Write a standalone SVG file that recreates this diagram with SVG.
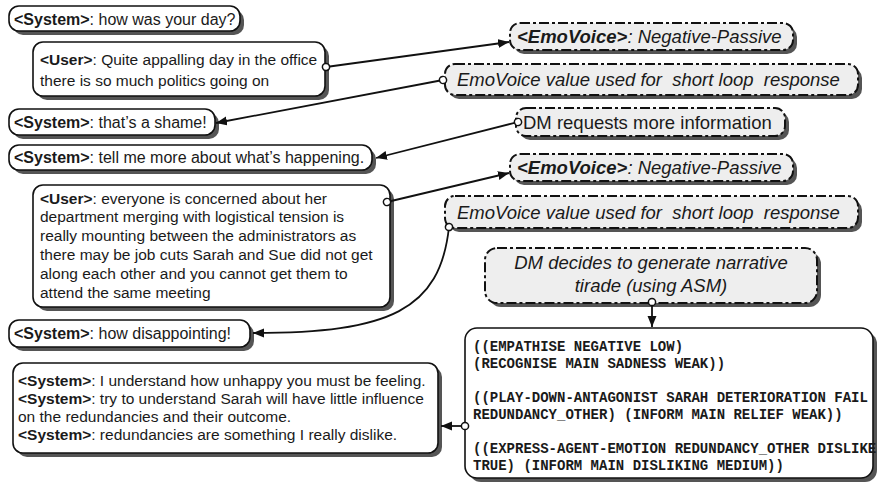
<svg xmlns="http://www.w3.org/2000/svg" width="878" height="483" viewBox="0 0 878 483">
<style>
.bg{fill:#ffffff}
.sh{fill:#555555}
.box{fill:#ffffff;stroke:#111111;stroke-width:1.6}
.dbox{fill:#eeeeee;stroke:#111111;stroke-width:2;stroke-dasharray:10,3,3,3}
.t{font-family:"Liberation Sans",Arial,sans-serif;font-size:16px;fill:#1a1a1a}
.tm{font-family:"Liberation Sans",Arial,sans-serif;font-size:15.5px;fill:#1a1a1a}
.ti{font-family:"Liberation Sans",Arial,sans-serif;font-size:18.5px;font-style:italic;fill:#1a1a1a}
.tr{font-family:"Liberation Sans",Arial,sans-serif;font-size:18.5px;fill:#1a1a1a}
.mono{font-family:"Liberation Mono","Courier New",monospace;font-size:14px;font-weight:bold;fill:#1a1a1a}
.b{font-weight:bold}
.c{fill:none;stroke:#111111;stroke-width:1.8}
</style>
<defs>
<marker id="arr" markerUnits="userSpaceOnUse" markerWidth="12" markerHeight="10" refX="11" refY="4.5" orient="auto">
<path d="M0,0 L11,4.5 L0,9 z" fill="#111111"/>
</marker>
<marker id="dot" markerUnits="userSpaceOnUse" markerWidth="10" markerHeight="10" refX="5" refY="5" orient="auto">
<circle cx="5" cy="5" r="3.6" fill="#ffffff" stroke="#111111" stroke-width="1.5"/>
</marker>
</defs>
<rect class="bg" x="0" y="0" width="878" height="483"/>

<g id="n1">
<rect class="sh" x="13" y="10" width="231" height="25" rx="10"/>
<rect class="box" x="9" y="6" width="231" height="25" rx="10"/>
<text class="t" x="14" y="24.5"><tspan class="b">&lt;System&gt;</tspan>: how was your day?</text>
</g>

<g id="n2">
<rect class="sh" x="37" y="46" width="292" height="54" rx="10"/>
<rect class="box" x="33" y="42" width="292" height="54" rx="10"/>
<text class="tm" x="40" y="64.5"><tspan class="b">&lt;User&gt;</tspan>: Quite appalling day in the office</text>
<text class="tm" x="40" y="85.5">there is so much politics going on</text>
</g>

<g id="n3">
<rect class="sh" x="13" y="113" width="206" height="26" rx="10"/>
<rect class="box" x="9" y="109" width="206" height="26" rx="10"/>
<text class="t" x="14" y="127.5"><tspan class="b">&lt;System&gt;</tspan>: that’s a shame!</text>
</g>

<g id="n4">
<rect class="sh" x="13" y="149" width="363" height="25" rx="10"/>
<rect class="box" x="9" y="145" width="363" height="25" rx="10"/>
<text class="t" x="14" y="163"><tspan class="b">&lt;System&gt;</tspan>: tell me more about what’s happening.</text>
</g>

<g id="n5">
<rect class="sh" x="37" y="189" width="357" height="122" rx="10"/>
<rect class="box" x="33" y="185" width="357" height="122" rx="10"/>
<text class="tm" x="40" y="203.5"><tspan class="b">&lt;User&gt;</tspan>: everyone is concerned about her</text>
<text class="tm" x="40" y="222.3">department merging with logistical tension is</text>
<text class="tm" x="40" y="241.1">really mounting between the administrators as</text>
<text class="tm" x="40" y="259.9">there may be job cuts Sarah and Sue did not get</text>
<text class="tm" x="40" y="278.7">along each other and you cannot get them to</text>
<text class="tm" x="40" y="297.5">attend the same meeting</text>
</g>

<g id="n6">
<rect class="sh" x="13" y="324" width="241" height="27" rx="10"/>
<rect class="box" x="9" y="320" width="241" height="27" rx="10"/>
<text class="t" x="14" y="339"><tspan class="b">&lt;System&gt;</tspan>: how disappointing!</text>
</g>

<g id="n7">
<rect class="sh" x="17" y="367" width="425" height="90" rx="10"/>
<rect class="box" x="13" y="363" width="425" height="90" rx="10"/>
<text class="tm" x="18" y="385.5"><tspan class="b">&lt;System&gt;</tspan>: I understand how unhappy you must be feeling.</text>
<text class="tm" x="18" y="403.8"><tspan class="b">&lt;System&gt;</tspan>: try to understand Sarah will have little influence</text>
<text class="tm" x="18" y="422.1">on the redundancies and their outcome.</text>
<text class="tm" x="18" y="440.4"><tspan class="b">&lt;System&gt;</tspan>: redundancies are something I really dislike.</text>
</g>

<g id="emo1">
<rect class="sh" x="514" y="27" width="283" height="27" rx="10"/>
<rect class="dbox" x="510" y="23" width="283" height="27" rx="10"/>
<text class="ti" x="517" y="43"><tspan class="b">&lt;EmoVoice&gt;</tspan>: Negative-Passive</text>
</g>

<g id="val1">
<rect class="sh" x="449" y="68" width="413" height="31" rx="10"/>
<rect class="dbox" x="445" y="64" width="413" height="31" rx="10"/>
<text class="ti" x="457" y="86" xml:space="preserve">EmoVoice value used for  short loop  response</text>
</g>

<g id="dm1">
<rect class="sh" x="520" y="112" width="269" height="28" rx="10"/>
<rect class="dbox" x="516" y="108" width="269" height="28" rx="10"/>
<text class="tr" x="523" y="129">DM requests more information</text>
</g>

<g id="emo2">
<rect class="sh" x="514" y="158" width="283" height="27" rx="10"/>
<rect class="dbox" x="510" y="154" width="283" height="27" rx="10"/>
<text class="ti" x="517" y="174"><tspan class="b">&lt;EmoVoice&gt;</tspan>: Negative-Passive</text>
</g>

<g id="val2">
<rect class="sh" x="449" y="200" width="413" height="32" rx="10"/>
<rect class="dbox" x="445" y="196" width="413" height="32" rx="10"/>
<text class="ti" x="457" y="219" xml:space="preserve">EmoVoice value used for  short loop  response</text>
</g>

<g id="dm2">
<rect class="sh" x="489" y="252" width="332" height="55" rx="12"/>
<rect class="dbox" x="485" y="248" width="332" height="55" rx="12"/>
<text class="ti" x="651" y="268.5" text-anchor="middle">DM decides to generate narrative</text>
<text class="ti" x="651" y="291.5" text-anchor="middle">tirade (using ASM)</text>
</g>

<g id="asm">
<rect class="sh" x="469" y="332" width="408" height="150" rx="12"/>
<rect class="box" x="465" y="328" width="408" height="150" rx="12"/>
<text class="mono" x="473" y="350.5">((EMPATHISE NEGATIVE LOW)</text>
<text class="mono" x="473" y="367.5">(RECOGNISE MAIN SADNESS WEAK))</text>
<text class="mono" x="473" y="402">((PLAY-DOWN-ANTAGONIST SARAH DETERIORATION FAIL</text>
<text class="mono" x="473" y="419">REDUNDANCY_OTHER) (INFORM MAIN RELIEF WEAK))</text>
<text class="mono" x="473" y="453">((EXPRESS-AGENT-EMOTION REDUNDANCY_OTHER DISLIKE</text>
<text class="mono" x="473" y="470">TRUE) (INFORM MAIN DISLIKING MEDIUM))</text>
</g>

<g id="connectors">
<path class="c" d="M326,67 L509,42" marker-start="url(#dot)" marker-end="url(#arr)"/>
<path class="c" d="M443,80 L216,123" marker-start="url(#dot)" marker-end="url(#arr)"/>
<path class="c" d="M518,122 L376,158" marker-start="url(#dot)" marker-end="url(#arr)"/>
<path class="c" d="M387,202 L509,173" marker-start="url(#dot)" marker-end="url(#arr)"/>
<path class="c" d="M449,227 C440,310 390,333 253,333" marker-start="url(#dot)" marker-end="url(#arr)"/>
<path class="c" d="M652,302 L652,327" marker-start="url(#dot)" marker-end="url(#arr)"/>
<path class="c" d="M465,426 L441,426" marker-start="url(#dot)" marker-end="url(#arr)"/>
</g>
</svg>
